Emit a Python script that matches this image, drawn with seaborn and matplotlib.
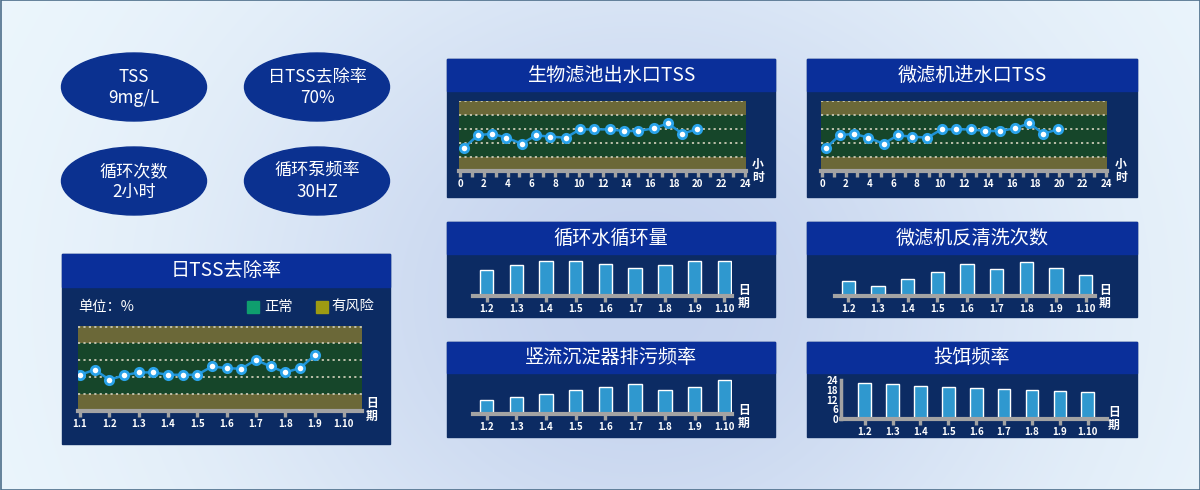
import numpy as np
import matplotlib
matplotlib.use('Agg')
import matplotlib.pyplot as plt
from matplotlib.patches import Rectangle, Ellipse
import seaborn as sns

# ---- data ----
day_labels = ['1.1', '1.2', '1.3', '1.4', '1.5', '1.6', '1.7', '1.8', '1.9', '1.10']
removal_days = [0, 0.5, 1, 1.5, 2, 2.5, 3, 3.5, 4, 4.5, 5, 5.5, 6, 6.5, 7, 7.5, 8]
removal_rate = [42.6, 48.5, 36.8, 41.9, 45.4, 45.4, 42.6, 42.6, 42.6,
                52.4, 50.4, 49.7, 60.2, 52.4, 45.4, 50.4, 65.3]

hours = [0.3, 1.5, 2.7, 3.9, 5.2, 6.4, 7.6, 8.9, 10.1, 11.3, 12.6, 13.8, 15.0, 16.3, 17.5, 18.7, 19.9]
bio_outlet_tss = [32.4, 51.0, 53.3, 47.6, 39.0, 51.0, 49.0, 47.6, 59.5,
                  59.5, 59.5, 57.1, 57.1, 61.0, 68.1, 53.3, 59.5]
micro_inlet_tss = [32.4, 51.0, 53.3, 47.6, 39.0, 51.0, 49.0, 47.6, 59.5,
                   59.5, 59.5, 57.1, 57.1, 61.0, 68.1, 53.3, 59.5]

bar_days = ['1.2', '1.3', '1.4', '1.5', '1.6', '1.7', '1.8', '1.9', '1.10']
circulation = [26, 31, 35, 35, 32, 28, 31, 35, 35]
backwash = [15, 10, 17, 24, 32, 27, 34, 28, 21]
sludge = [14, 17, 20, 24, 27, 30, 24, 27, 34]
feeding = [22.2, 21.5, 20.3, 19.7, 19.1, 18.5, 17.8, 17.2, 16.6]
feeding_ticks = [0, 6, 12, 18, 24]

kpis = [('TSS', '9mg/L'), ('日TSS去除率', '70%'), ('循环次数', '2小时'), ('循环泵频率', '30HZ')]

# ---- style ----
W, H = 1200, 490
TITLE_BG = '#0a2f9a'
BODY_BG = '#0c2b63'
ELLIPSE = '#0b3190'
OLIVE = '#6b6838'
GREEN = '#16462a'
DASH = '#c9c9b4'
AXIS_GRAY = '#a3a3a3'
LINE = '#1f93d6'
BAR = '#2f98cf'

sns.set_theme(style='white')
plt.rcParams['font.family'] = ['Noto Sans CJK SC', 'DejaVu Sans']
plt.rcParams['axes.unicode_minus'] = False


def px_rect(x0, y0, x1, y1):
    return [x0 / W, 1 - y1 / H, (x1 - x0) / W, (y1 - y0) / H]


fig = plt.figure(figsize=(12, 4.9), dpi=100)

# background in pixel coordinates
bg_ax = fig.add_axes([0, 0, 1, 1])
bg_ax.set_xlim(0, W)
bg_ax.set_ylim(H, 0)
bg_ax.axis('off')
yy, xx = np.mgrid[0:H, 0:W]
t = np.exp(-((xx - 640) / 430) ** 2 - ((yy - 300) / 380) ** 2)
light = np.array([238, 248, 253]) / 255
blue = np.array([197, 211, 238]) / 255
bg_ax.imshow(light + (blue - light) * t[..., None], extent=[0, W, H, 0], aspect='auto')
bg_ax.add_patch(Rectangle((0.5, 0.5), W - 1, H - 1, fill=False, ec='#4d6e8a', lw=1.2))

# KPI ellipses
for (line1, line2), (cx, cy) in zip(kpis, [(134, 87), (317, 87), (134, 181), (317, 181)]):
    bg_ax.add_patch(Ellipse((cx, cy), 145, 68, color=ELLIPSE))
    bg_ax.text(cx, cy - 10, line1, color='white', fontsize=12.3, ha='center', va='center')
    bg_ax.text(cx, cy + 11, line2, color='white', fontsize=12.3, ha='center', va='center')


def panel(x0, y0, x1, y1, title_h, title):
    bg_ax.add_patch(Rectangle((x0, y0), x1 - x0, y1 - y0, color=BODY_BG))
    bg_ax.add_patch(Rectangle((x0, y0), x1 - x0, title_h, color=TITLE_BG))
    bg_ax.text((x0 + x1) / 2, y0 + title_h / 2, title, color='white', fontsize=13.8,
               ha='center', va='center')


def vlabel(x, y, s):
    bg_ax.text(x, y, '\n'.join(s), color='white', fontsize=8.5, fontweight='bold',
               ha='center', va='center', linespacing=1.0)


def style_axis(ax):
    ax.set_facecolor('none')
    sns.despine(ax=ax, left=True)
    ax.spines['bottom'].set_color(AXIS_GRAY)
    ax.spines['bottom'].set_linewidth(3)
    ax.set_yticks([])
    ax.set_xlabel('')
    ax.set_ylabel('')
    ax.tick_params(axis='x', which='both', bottom=True, direction='out', colors=AXIS_GRAY,
                   length=4, width=2.4, labelcolor='white', labelsize=7, pad=2)
    for lab in ax.get_xticklabels():
        lab.set_fontweight('bold')


def band_chart(rect, x, y, xlim):
    ax = fig.add_axes(px_rect(*rect))
    ax.axhspan(0, 20, color=OLIVE, lw=0)
    ax.axhspan(20, 80, color=GREEN, lw=0)
    ax.axhspan(80, 100, color=OLIVE, lw=0)
    for v in [20, 40, 60, 80, 99.3]:
        ax.axhline(v, color=DASH, lw=1.3, ls=(0, (1.2, 1.8)))
    sns.lineplot(x=x, y=y, ax=ax, color=LINE, lw=1.8, marker='o', markersize=6,
                 markerfacecolor='white', markeredgecolor='#2aa3ea', markeredgewidth=2,
                 zorder=5)
    ax.set_ylim(0, 100)
    ax.set_xlim(*xlim)
    return ax


def bar_chart(rect, values, xlim, ylim, width):
    ax = fig.add_axes(px_rect(*rect))
    sns.barplot(x=bar_days, y=values, ax=ax, color=BAR, width=width, saturation=1)
    ax.set_xlim(*xlim)
    ax.set_ylim(*ylim)
    style_axis(ax)
    return ax


# ---- left panel: daily TSS removal rate ----
panel(62, 254, 390, 444, 33, '日TSS去除率')
bg_ax.text(78, 307, '单位：%', color='white', fontsize=10.3, va='center')
bg_ax.add_patch(Rectangle((247, 301), 12, 12, color='#0f9e6e'))
bg_ax.text(264, 307, '正常', color='white', fontsize=10.3, va='center')
bg_ax.add_patch(Rectangle((316, 301), 12, 12, color='#9d9a12'))
bg_ax.text(331, 307, '有风险', color='white', fontsize=10.3, va='center')
ax = band_chart((78, 326, 362, 411), removal_days, removal_rate, (-0.07, 9.62))
ax.set_xticks(range(len(day_labels)))
ax.set_xticklabels(day_labels)
style_axis(ax)
vlabel(372, 410, '日期')

# ---- top panels: hourly TSS ----
for (px0, px1, ax0, ax1, title, vals, lx) in [
        (447, 775, 459, 746, '生物滤池出水口TSS', bio_outlet_tss, 758),
        (807, 1137, 821, 1107, '微滤机进水口TSS', micro_inlet_tss, 1121)]:
    panel(px0, 59, px1, 197, 32, title)
    ax = band_chart((ax0, 101, ax1, 171), hours, vals, (-0.08, 24.06))
    ax.set_xticks(range(0, 25, 2))
    ax.set_xticks(range(0, 25, 1), minor=True)
    style_axis(ax)
    vlabel(lx, 171, '小时')

# ---- bar panels ----
panel(447, 222, 775, 317, 32, '循环水循环量')
bar_chart((473, 256, 732, 296), circulation, (-0.46, 8.26), (0, 40), 0.45)
vlabel(744, 297, '日期')

panel(807, 222, 1137, 317, 32, '微滤机反清洗次数')
bar_chart((835, 256, 1095, 296), backwash, (-0.45, 8.31), (0, 40), 0.45)
vlabel(1105, 297, '日期')

panel(447, 342, 775, 437, 31, '竖流沉淀器排污频率')
bar_chart((473, 374, 732, 414), sludge, (-0.46, 8.26), (0, 40), 0.45)
vlabel(744, 417, '日期')

panel(807, 342, 1137, 437, 31, '投饵频率')
ax = bar_chart((841, 380, 1107, 419), feeding, (-0.85, 8.69), (0, 24), 0.455)
ax.spines['left'].set_visible(True)
ax.spines['left'].set_color(AXIS_GRAY)
ax.spines['left'].set_linewidth(2.5)
ax.set_yticks(feeding_ticks)
ax.tick_params(axis='y', left=False, length=0, labelcolor='white', labelsize=7, pad=2)
for lab in ax.get_yticklabels():
    lab.set_fontweight('bold')
vlabel(1114, 419, '日期')

fig.savefig('out.png', dpi=100)
